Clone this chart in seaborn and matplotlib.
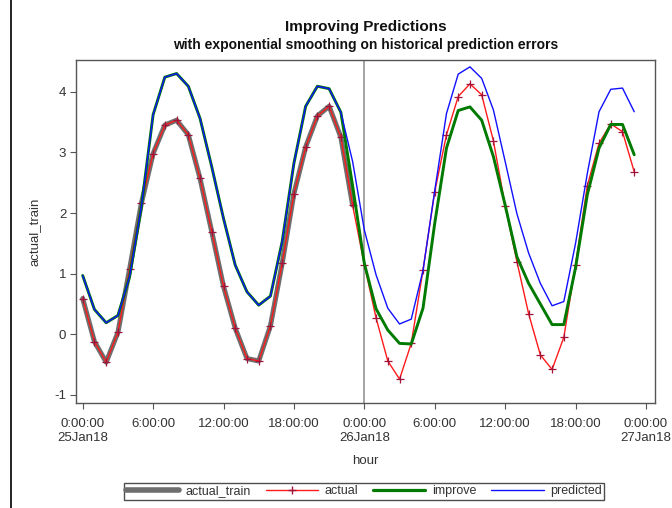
import numpy as np
import pandas as pd
import matplotlib
matplotlib.use("Agg")
import matplotlib.pyplot as plt
import matplotlib.dates as mdates
from matplotlib.lines import Line2D
import seaborn as sns

# ---- data: hourly values, 25Jan18 00:00 through 26Jan18 23:00 ----
start = pd.Timestamp("2018-01-25 00:00")
hours = pd.date_range(start, periods=48, freq="h")

actual = [0.59, -0.12, -0.46, 0.03, 1.08, 2.16, 2.98, 3.45, 3.53, 3.29, 2.57, 1.69,
          0.79, 0.10, -0.40, -0.44, 0.14, 1.17, 2.32, 3.09, 3.60, 3.76, 3.25, 2.13,
          1.15, 0.27, -0.44, -0.74, -0.15, 1.06, 2.35, 3.29, 3.92, 4.13, 3.95, 3.19,
          2.12, 1.20, 0.34, -0.34, -0.58, -0.05, 1.15, 2.45, 3.15, 3.47, 3.34, 2.68]

predicted = [0.97, 0.41, 0.19, 0.31, 0.95, 2.10, 3.62, 4.24, 4.30, 4.09, 3.56, 2.76,
             1.91, 1.14, 0.70, 0.48, 0.63, 1.53, 2.82, 3.76, 4.09, 4.05, 3.66, 2.85,
             1.72, 0.98, 0.43, 0.17, 0.25, 1.05, 2.37, 3.64, 4.29, 4.41, 4.22, 3.70,
             2.85, 1.99, 1.34, 0.84, 0.47, 0.54, 1.50, 2.65, 3.67, 4.04, 4.06, 3.67]

improve = [0.97, 0.41, 0.19, 0.31, 0.95, 2.10, 3.62, 4.24, 4.30, 4.09, 3.56, 2.76,
           1.91, 1.14, 0.70, 0.48, 0.63, 1.53, 2.82, 3.76, 4.09, 4.05, 3.66, 2.45,
           1.17, 0.42, 0.07, -0.15, -0.16, 0.43, 1.83, 3.07, 3.69, 3.75, 3.53, 2.93,
           2.13, 1.28, 0.84, 0.50, 0.16, 0.16, 1.10, 2.30, 3.07, 3.46, 3.46, 2.96]

n_train = 24  # actual_train covers the first 24 hours
actual_train = actual[:n_train]

y_ticks = [-1, 0, 1, 2, 3, 4]

df = pd.DataFrame({"hour": hours, "actual": actual,
                   "predicted": predicted, "improve": improve})
df_train = pd.DataFrame({"hour": hours[:n_train], "actual_train": actual_train})

# ---- styling ----
sns.set_style("white")
plt.rcParams["font.family"] = ["Liberation Sans", "DejaVu Sans"]

fig = plt.figure(figsize=(6.72, 5.08), dpi=100)
ax = fig.add_axes([76 / 672, 1 - 403 / 508, (655 - 76) / 672, (403 - 60) / 508])

sns.lineplot(data=df_train, x="hour", y="actual_train", ax=ax,
             color="#6e6e6e", linewidth=3.6)
sns.lineplot(data=df, x="hour", y="actual", ax=ax, color="#ff1a1a",
             linewidth=1.0, marker="+", markersize=5.5, markeredgewidth=0.9,
             markeredgecolor="#a0143c")
sns.lineplot(data=df, x="hour", y="improve", ax=ax, color="#007a00", linewidth=2.1)
sns.lineplot(data=df, x="hour", y="predicted", ax=ax, color="#1010ff", linewidth=1.0)

# reference line at the start of the prediction period
ax.axvline(start + pd.Timedelta(hours=24), color="#8c8c8c", linewidth=1.1, zorder=0)

# ---- axes ----
ax.set_xlim(start - pd.Timedelta(hours=0.57), start + pd.Timedelta(hours=48.77))
ax.set_ylim(-1.133, 4.523)

tick_times = pd.date_range(start, periods=9, freq="6h")
tick_labels = []
for t in tick_times:
    lab = f"{t.hour}:00:00"
    if t.hour == 0:
        lab += "\n" + t.strftime("%d%b%y")
    tick_labels.append(lab)
ax.set_xticks(mdates.date2num(tick_times.to_pydatetime()))
ax.set_xticklabels(tick_labels, fontsize=9.5, color="#333333", linespacing=1.15,
                   va="top")
ax.set_yticks(y_ticks)
ax.set_yticklabels([str(v) for v in y_ticks], fontsize=9.5, color="#333333")

ax.tick_params(axis="x", direction="out", length=4, width=0.8,
               color="#555555", pad=7, bottom=True)
ax.tick_params(axis="y", direction="out", length=4, width=0.8,
               color="#555555", pad=3, left=True)
for s in ax.spines.values():
    s.set_color("#555555")
    s.set_linewidth(1.0)

ax.set_xlabel("hour", fontsize=9.5, color="#333333", labelpad=8)
ax.set_ylabel("actual_train", fontsize=9.5, color="#333333", labelpad=10)

# ---- titles ----
cx = (76 + 655) / 2 / 672
fig.text(cx, 1 - 27 / 508, "Improving Predictions", ha="center", va="center",
         fontsize=11, fontweight="bold", color="#111111")
fig.text(cx, 1 - 45 / 508, "with exponential smoothing on historical prediction errors",
         ha="center", va="center", fontsize=10, fontweight="bold", color="#111111")

# ---- legend ----
handles = [
    Line2D([], [], color="#6e6e6e", linewidth=4),
    Line2D([], [], color="#ff1a1a", linewidth=1, marker="+", markersize=5.5,
           markeredgecolor="#a0143c"),
    Line2D([], [], color="#007a00", linewidth=2.3),
    Line2D([], [], color="#1010ff", linewidth=1),
]
leg = fig.legend(handles, ["actual_train", "actual", "improve", "predicted"],
                 loc="center", bbox_to_anchor=(364 / 672, 1 - 491 / 508),
                 ncol=4, fontsize=9, frameon=True, fancybox=False,
                 handlelength=4.2, handletextpad=0.5, columnspacing=1.2,
                 borderpad=0.2, labelcolor="#333333")
leg.get_frame().set_edgecolor("#222222")
leg.get_frame().set_linewidth(1.0)

# page border on the left
fig.add_artist(Line2D([11 / 672, 11 / 672], [0, 1], color="black", linewidth=1.2))

fig.savefig("out.png", dpi=100)
